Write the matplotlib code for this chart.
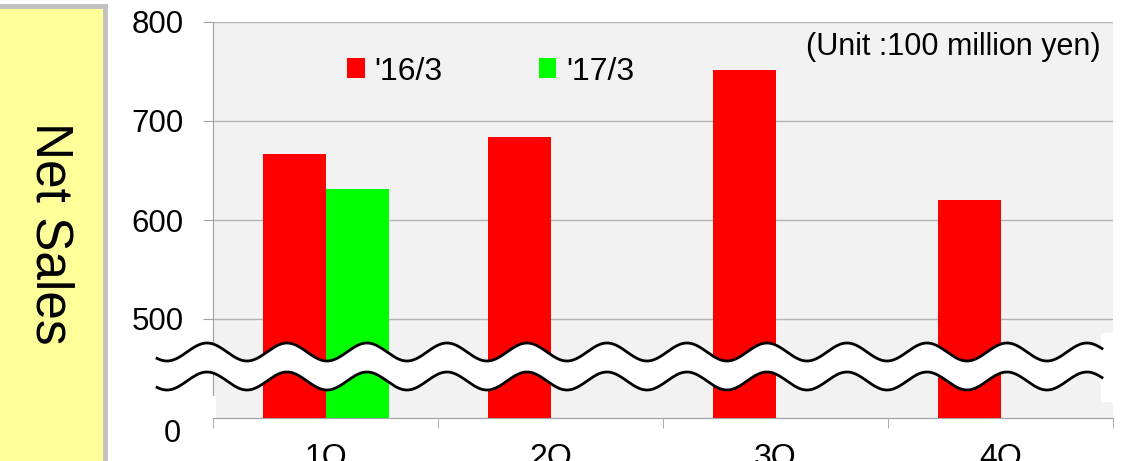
import numpy as np
import matplotlib.pyplot as plt
from matplotlib.patches import Rectangle

plt.rcParams['font.family'] = ['Liberation Sans', 'DejaVu Sans']

quarters = ['1Q', '2Q', '3Q', '4Q']
sales_16 = [667, 684, 752, 620]
sales_17 = [631]
y_ticks = [500, 600, 700, 800]

W, H = 1124, 461
fig = plt.figure(figsize=(W / 100, H / 100), dpi=100)
ax = fig.add_axes([213 / W, 1 - 418 / H, 900 / W, 396 / H])
ax.set_facecolor('#f2f2f2')

x = np.arange(len(quarters))
w = 0.28
ax.bar(x - w / 2, sales_16, w, color='#ff0000', label="'16/3", zorder=3)
ax.bar(x[:len(sales_17)] + w / 2, sales_17, w, color='#00ff00', label="'17/3", zorder=3)

ax.set_xlim(-0.5, 3.5)
ax.set_ylim(400, 800)
ax.set_yticks(y_ticks)
ax.set_xticks(x)
ax.set_xticklabels(quarters)
ax.set_xticks(np.arange(-0.5, 4, 1), minor=True)
ax.tick_params(axis='x', which='major', length=0, pad=18, labelsize=23)
ax.tick_params(axis='x', which='minor', length=7, color='#a0a0a0', direction='out')
ax.tick_params(axis='y', length=7, color='#a0a0a0', pad=14, labelsize=22.5)
ax.grid(axis='y', color='#b4b4b4', lw=1, zorder=0)
ax.set_axisbelow(True)
for s in ['top', 'right']:
    ax.spines[s].set_visible(False)
for s in ['left', 'bottom']:
    ax.spines[s].set_color('#a0a0a0')

ax.legend(loc='center left', bbox_to_anchor=(0.149, 0.875), ncol=2, frameon=False,
          fontsize=23, handlelength=0.56, handleheight=0.56, handletextpad=0.3,
          columnspacing=3.0, borderpad=0, borderaxespad=0)
ax.text(0.986, 0.937, '(Unit :100 million yen)', transform=ax.transAxes,
        ha='right', va='center', fontsize=22)

# overlay in pixel coordinates for the break marks and side box
ov = fig.add_axes([0, 0, 1, 1])
ov.set_xlim(0, W)
ov.set_ylim(H, 0)
ov.axis('off')
ov.patch.set_alpha(0)
ov.set_zorder(5)

xs = np.linspace(157, 1102, 600)
upper = 352 - 9 * np.cos(2 * np.pi * (xs - 207) / 80)
lower = upper + 29
ov.fill_between(xs, upper, lower, color='white', lw=0)
ov.plot(xs, upper, color='black', lw=2)
ov.plot(xs, lower, color='black', lw=2)
ov.add_patch(Rectangle((1101, 333), 14, 69, color='white', lw=0))
ov.add_patch(Rectangle((120, 396), 96, 22, color='white', lw=0))
ov.text(172, 434, '0', ha='center', va='center', fontsize=22)

ov.add_patch(Rectangle((-5, 6), 110, 470, facecolor='#ffff99', edgecolor='#c0c0c0', lw=3.5))
ov.text(50, 233, 'Net Sales', rotation=-90, ha='center', va='center', fontsize=37)

fig.savefig('out.png', dpi=100)
